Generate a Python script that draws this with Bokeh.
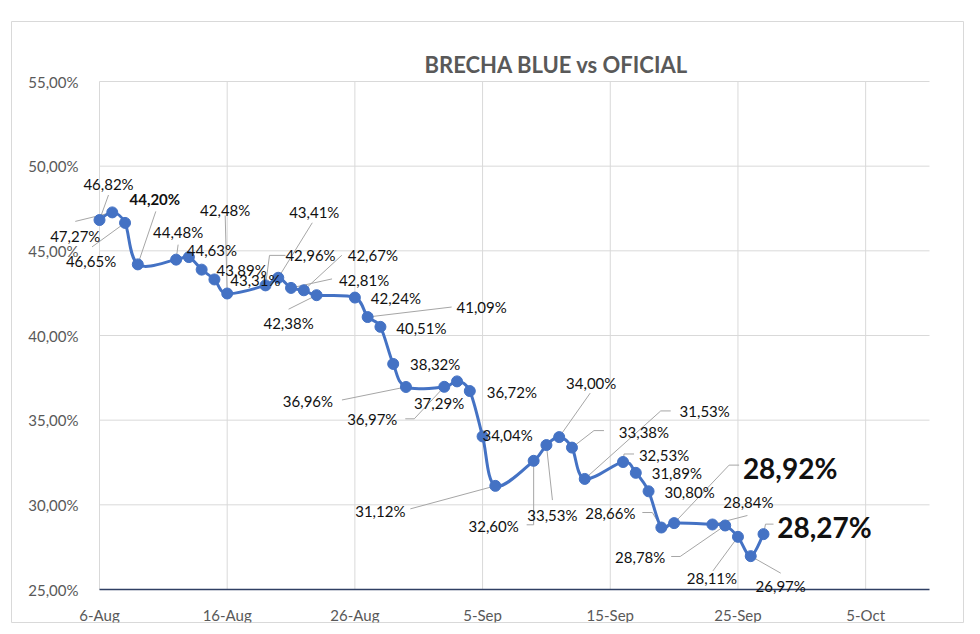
from datetime import datetime
from bokeh.plotting import figure
from bokeh.models import (Range1d, FixedTicker, ColumnDataSource, LabelSet, Label)
from bokeh.core.properties import value
from bokeh.embed import file_html
from bokeh.resources import INLINE

# ---------------- data ----------------
dates = ["2024-08-06", "2024-08-07", "2024-08-08", "2024-08-09",
         "2024-08-12", "2024-08-13", "2024-08-14", "2024-08-15", "2024-08-16",
         "2024-08-19", "2024-08-20", "2024-08-21", "2024-08-22", "2024-08-23",
         "2024-08-26", "2024-08-27", "2024-08-28", "2024-08-29", "2024-08-30",
         "2024-09-02", "2024-09-03", "2024-09-04", "2024-09-05", "2024-09-06",
         "2024-09-09", "2024-09-10", "2024-09-11", "2024-09-12", "2024-09-13",
         "2024-09-16", "2024-09-17", "2024-09-18", "2024-09-19", "2024-09-20",
         "2024-09-23", "2024-09-24", "2024-09-25", "2024-09-26", "2024-09-27"]
brecha = [46.82, 47.27, 46.65, 44.20,
          44.48, 44.63, 43.89, 43.31, 42.48,
          42.96, 43.41, 42.81, 42.67, 42.38,
          42.24, 41.09, 40.51, 38.32, 36.96,
          36.97, 37.29, 36.72, 34.04, 31.12,
          32.60, 33.53, 34.00, 33.38, 31.53,
          32.53, 31.89, 30.80, 28.66, 28.92,
          28.84, 28.78, 28.11, 26.97, 28.27]

x_tick_dates = ["2024-08-06", "2024-08-16", "2024-08-26", "2024-09-05",
                "2024-09-15", "2024-09-25", "2024-10-05"]
x_tick_labels = ["6-Aug", "16-Aug", "26-Aug", "5-Sep", "15-Sep", "25-Sep", "5-Oct"]
y_ticks = [25, 30, 35, 40, 45, 50, 55]
y_tick_labels = ["25,00%", "30,00%", "35,00%", "40,00%", "45,00%", "50,00%", "55,00%"]
x_start, x_end = "2024-08-06", "2024-10-10"
title_text = "BRECHA BLUE vs OFICIAL"

# ---------------- label layout (pixels, +dy = down) ----------------
label_dx = [9, -37, -34, 17, 2, 23, 40, 41, -2,
            45, 36, 73, 69, -28, 41, 114, 41, 42, -98,
            -72, -18, 42, 25, -115, -40, 6, 32, 72, 120,
            41, 41, 41, -51, 116, 36, -85, -26, 30, 61]
label_dy = [-36, 24, 38, -65, -28, -7, 0, 1, -84,
            -30, -66, -8, -35, 28, 0, -10, 1, 0, 14,
            32, 22, 1, -1, 25, 65, 70, -54, -16, -68,
            -7, 0, 1, -15, -55, -22, 32, 41, 30, -7]
label_size = ["15px"] * 39
label_style = ["normal"] * 39
label_style[3] = "bold"
label_size[33] = "28px"; label_style[33] = "bold"
label_size[38] = "28px"; label_style[38] = "bold"

leaders = {
    0: [(9, -25), (0, 0)],
    1: [(-37, 9), (0, 0)],
    2: [(-33, 24), (0, 0)],
    3: [(18, -53), (0, 0)],
    4: [(2, -15), (0, 0)],
    8: [(-2, -78), (0, 0)],
    9: [(20, -30), (4, -30), (0, 0)],
    10: [(34, -55), (0, 0)],
    11: [(41, -9), (0, 0)],
    12: [(38, -35), (0, 0)],
    13: [(-28, 14), (0, 0)],
    15: [(84, -10), (0, 0)],
    18: [(-64, 13), (0, 0)],
    19: [(-39, 32), (-30, 32), (0, 0)],
    23: [(-85, 23), (0, 0)],
    24: [(-7, 64), (0, 64), (0, 0)],
    25: [(6, 55), (0, 0)],
    26: [(31, -44), (0, 0)],
    27: [(32, -17), (22, -17), (0, 0)],
    28: [(86, -68), (76, -68), (0, 0)],
    29: [(11, -8), (1, -8), (0, 0)],
    32: [(-19, -15), (-9, -15), (0, 0)],
    33: [(65, -58), (55, -58), (0, 0)],
    34: [(35, -9), (0, 0)],
    35: [(-54, 31), (-45, 31), (0, 0)],
    36: [(-25, 34), (0, 0)],
    37: [(30, 17), (0, 0)],
    38: [(10, -10), (2, -10), (0, 0)],
}

# ---------------- geometry (pixels) ----------------
# frame = whole chart area (its outline is the chart border)
FW, FH = 952, 601
OFF_L, OFF_T = 11, 21
PAD_L, PAD_R, PAD_T, PAD_B = 88, 34, 60, 33   # plot area inside the frame
W, H = FW + OFF_L + 2, FH + OFF_T + 2
TITLE_X, TITLE_Y = 545, 43                      # title centre, from frame top-left

EPOCH = datetime(1970, 1, 1)


def ms(s):
    return (datetime.strptime(s, "%Y-%m-%d") - EPOCH).total_seconds() * 1000.0


xs = [ms(d) for d in dates]
t0, t1 = ms(x_start), ms(x_end)
y0, y1 = y_ticks[0], y_ticks[-1]
px_per_ms = (FW - PAD_L - PAD_R) / (t1 - t0)
px_per_pct = (FH - PAD_T - PAD_B) / (y1 - y0)
xr = Range1d(t0 - PAD_L / px_per_ms, t1 + PAD_R / px_per_ms)
yr = Range1d(y0 - PAD_B / px_per_pct, y1 + PAD_T / px_per_pct)

texts = [("%.2f" % v).replace(".", ",") + "%" for v in brecha]

p = figure(width=W, height=H, output_backend="svg", toolbar_location=None,
           x_range=xr, y_range=yr,
           min_border_left=OFF_L, min_border_right=2,
           min_border_top=OFF_T, min_border_bottom=2)
p.outline_line_color = "#d9d9d9"
p.outline_line_width = 1
p.background_fill_color = "white"
p.border_fill_color = "white"

# axes fixed inside the chart area
xt = [ms(d) for d in x_tick_dates]
p.xaxis.fixed_location = y0
p.xaxis.bounds = (t0, t1)
p.xaxis.ticker = FixedTicker(ticks=xt)
p.xaxis.major_label_overrides = {t: l for t, l in zip(xt, x_tick_labels)}
p.xaxis.axis_line_color = "#2f3f63"
p.xaxis.axis_line_width = 1.5
p.xaxis.major_tick_line_color = None
p.xaxis.minor_tick_line_color = None
p.xaxis.major_label_standoff = 10
p.yaxis.fixed_location = t0
p.yaxis.bounds = (y0, y1)
p.yaxis.ticker = FixedTicker(ticks=y_ticks)
p.yaxis.major_label_overrides = {t: l for t, l in zip(y_ticks, y_tick_labels)}
p.yaxis.axis_line_color = None
p.yaxis.major_tick_line_color = None
p.yaxis.minor_tick_line_color = None
p.yaxis.major_label_standoff = 15
for ax in (p.xaxis, p.yaxis):
    ax.major_label_text_font = "Lato"
    ax.major_label_text_font_size = "15px"
    ax.major_label_text_color = "#595959"

# grid lines limited to the plot area
p.xgrid.visible = False
p.ygrid.visible = False
gx, gy = [], []
for t in xt:
    gx.append([t, t]); gy.append([y0, y1])
for v in y_ticks[1:]:
    gx.append([t0, t1]); gy.append([v, v])
p.multi_line(gx, gy, line_color="#d9d9d9", line_width=1)

# title
tx = xr.start + TITLE_X / px_per_ms
ty = yr.end - TITLE_Y / px_per_pct
p.add_layout(Label(x=tx, y=ty, text=title_text, text_font="Lato",
                   text_font_size="22px", text_font_style="bold",
                   text_color="#595959", text_align="center",
                   text_baseline="middle"))

# leader lines
sx0, sy0, sx1, sy1 = [], [], [], []
for i, pts in leaders.items():
    for (ax_, ay_), (bx_, by_) in zip(pts[:-1], pts[1:]):
        sx0.append(xs[i] + ax_ / px_per_ms)
        sy0.append(brecha[i] - ay_ / px_per_pct)
        sx1.append(xs[i] + bx_ / px_per_ms)
        sy1.append(brecha[i] - by_ / px_per_pct)
lsrc = ColumnDataSource(dict(x0=sx0, y0=sy0, x1=sx1, y1=sy1))
p.segment("x0", "y0", "x1", "y1", source=lsrc, line_color="#a6a6a6", line_width=1)

# smoothed series line (Catmull-Rom style Bezier between consecutive points)
n = len(xs)
bx0, by0, bx1, by1, c0x, c0y, c1x, c1y = ([] for _ in range(8))
for i in range(n - 1):
    pa = (xs[max(i - 1, 0)], brecha[max(i - 1, 0)])
    pb = (xs[i], brecha[i])
    pc = (xs[i + 1], brecha[i + 1])
    pd = (xs[min(i + 2, n - 1)], brecha[min(i + 2, n - 1)])
    bx0.append(pb[0]); by0.append(pb[1])
    bx1.append(pc[0]); by1.append(pc[1])
    c0x.append(pb[0] + (pc[0] - pa[0]) / 6.0)
    c0y.append(pb[1] + (pc[1] - pa[1]) / 6.0)
    c1x.append(pc[0] - (pd[0] - pb[0]) / 6.0)
    c1y.append(pc[1] - (pd[1] - pb[1]) / 6.0)
bsrc = ColumnDataSource(dict(x0=bx0, y0=by0, x1=bx1, y1=by1,
                             cx0=c0x, cy0=c0y, cx1=c1x, cy1=c1y))
p.bezier("x0", "y0", "x1", "y1", "cx0", "cy0", "cx1", "cy1", source=bsrc,
         line_color="#4472c4", line_width=3)

src = ColumnDataSource(dict(x=xs, y=brecha, t=texts,
                            dx=label_dx, dy=[-d for d in label_dy],
                            fs=label_size, fw=label_style))
p.scatter("x", "y", source=src, size=11, fill_color="#4472c4",
          line_color="#4472c4")

p.add_layout(LabelSet(x="x", y="y", text="t", source=src,
                      x_offset="dx", y_offset="dy",
                      text_font=value("Lato"), text_font_size="fs",
                      text_font_style="fw", text_color="#111111",
                      text_align="center", text_baseline="middle"))

open("out.html", "w").write(file_html(p, INLINE))
